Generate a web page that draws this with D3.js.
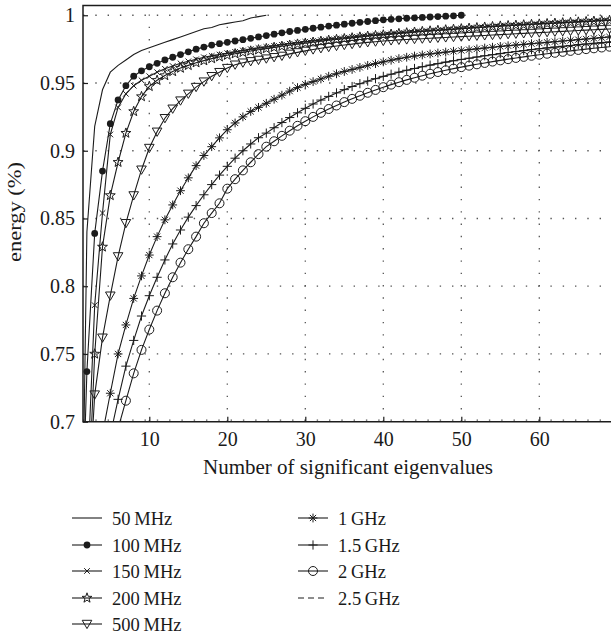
<!DOCTYPE html>
<html>
<head>
<meta charset="utf-8">
<script src="https://cdn.jsdelivr.net/npm/d3@7"></script>
<style>
  html, body { margin: 0; padding: 0; background: #fff; }
  svg { display: block; }
  text { font-family: "Liberation Serif", serif; fill: #1a1a1a; }
</style>
</head>
<body>
<svg id="chart" width="611" height="636"></svg>
<script>
// Cumulative energy captured by the first k eigenvalues, one array per bandwidth.
// Index i holds the value for k = i + 1.
const mhz50 = [0.45, 0.84, 0.918, 0.945, 0.958, 0.963, 0.967, 0.971, 0.974, 0.976,
  0.978, 0.980, 0.982, 0.984, 0.986, 0.988, 0.990, 0.991, 0.993, 0.994,
  0.995, 0.996, 0.998, 0.999, 1.0];

const mhz100 = [0.55, 0.737, 0.839, 0.885, 0.920, 0.9375, 0.948, 0.955, 0.959, 0.962,
  0.9645, 0.967, 0.969, 0.971, 0.973, 0.975, 0.9765, 0.978, 0.979, 0.980,
  0.981, 0.982, 0.983, 0.984, 0.985, 0.986, 0.987, 0.988, 0.9888, 0.9896,
  0.9904, 0.9912, 0.992, 0.9927, 0.9934, 0.9941, 0.9948, 0.9954, 0.996, 0.9966,
  0.997, 0.9974, 0.9978, 0.9981, 0.9984, 0.9987, 0.999, 0.9993, 0.9996, 1.0];

const mhz150 = [0.45, 0.65, 0.786, 0.854, 0.912, 0.932, 0.942, 0.948, 0.952, 0.955,
  0.958, 0.9605, 0.9625, 0.9645, 0.966, 0.9675, 0.969, 0.970, 0.971, 0.972,
  0.973, 0.974, 0.975, 0.9758, 0.9766, 0.9774, 0.9782, 0.979, 0.9797, 0.9804,
  0.981, 0.9816, 0.9822, 0.9828, 0.9834, 0.984, 0.9845, 0.985, 0.9855, 0.986,
  0.9865, 0.987, 0.9875, 0.9879, 0.9883, 0.9887, 0.9891, 0.9895, 0.9899, 0.9903,
  0.9907, 0.9911, 0.9915, 0.9919, 0.9923, 0.9926, 0.9929, 0.9932, 0.9935, 0.9938,
  0.9941, 0.9944, 0.9947, 0.995, 0.9953, 0.9956, 0.9959, 0.9962, 0.9965, 0.9968];

const mhz200 = [0.40, 0.62, 0.750, 0.829, 0.867, 0.8915, 0.913, 0.929, 0.940, 0.9475,
  0.952, 0.9555, 0.9585, 0.961, 0.963, 0.965, 0.9665, 0.968, 0.9693, 0.9705,
  0.9716, 0.9726, 0.9736, 0.9745, 0.9754, 0.9763, 0.9771, 0.9779, 0.9787, 0.9794,
  0.9801, 0.9808, 0.9815, 0.9821, 0.9827, 0.9833, 0.9839, 0.9845, 0.985, 0.9855,
  0.986, 0.9865, 0.987, 0.9875, 0.988, 0.9884, 0.9888, 0.9892, 0.9896, 0.99,
  0.9904, 0.9908, 0.9912, 0.9916, 0.992, 0.9923, 0.9926, 0.9929, 0.9932, 0.9935,
  0.9938, 0.9941, 0.9944, 0.9947, 0.995, 0.9953, 0.9956, 0.9959, 0.9962, 0.9965];

const mhz500 = [0.35, 0.62, 0.720, 0.762, 0.793, 0.822, 0.8465, 0.867, 0.886, 0.902,
  0.914, 0.924, 0.931, 0.937, 0.942, 0.947, 0.951, 0.955, 0.958, 0.961,
  0.9635, 0.965, 0.966, 0.967, 0.968, 0.969, 0.970, 0.9715, 0.9726, 0.9737,
  0.9747, 0.9756, 0.9765, 0.9773, 0.978, 0.9787, 0.9794, 0.980, 0.9805, 0.981,
  0.9814, 0.9818, 0.9821, 0.9824, 0.9827, 0.983, 0.9833, 0.9836, 0.9839, 0.9842,
  0.9845, 0.9848, 0.9851, 0.9854, 0.9857, 0.986, 0.9863, 0.9866, 0.9869, 0.9872,
  0.9875, 0.9878, 0.9881, 0.9884, 0.9887, 0.989, 0.9893, 0.9896, 0.9899, 0.9902];

const ghz1 = [0.50, 0.60, 0.655, 0.691, 0.721, 0.750, 0.7714, 0.791, 0.8076, 0.823,
  0.8366, 0.849, 0.860, 0.8705, 0.880, 0.889, 0.8965, 0.903, 0.9095, 0.9155,
  0.9205, 0.925, 0.929, 0.932, 0.935, 0.938, 0.941, 0.944, 0.9466, 0.949,
  0.951, 0.953, 0.955, 0.9568, 0.9585, 0.960, 0.9615, 0.963, 0.9643, 0.9656,
  0.9668, 0.968, 0.969, 0.9699, 0.9707, 0.9714, 0.9721, 0.9728, 0.9734, 0.974,
  0.9746, 0.9752, 0.9758, 0.9764, 0.977, 0.9775, 0.978, 0.9785, 0.979, 0.9795,
  0.980, 0.9805, 0.981, 0.9815, 0.982, 0.9825, 0.983, 0.9835, 0.984, 0.9845];

const ghz15 = [0.45, 0.55, 0.61, 0.66, 0.69, 0.7165, 0.741, 0.760, 0.778, 0.793,
  0.8066, 0.8194, 0.8312, 0.8415, 0.851, 0.8595, 0.8675, 0.875, 0.882, 0.8885,
  0.8945, 0.900, 0.905, 0.9096, 0.913, 0.917, 0.9208, 0.9245, 0.928, 0.9313,
  0.9345, 0.9374, 0.9401, 0.9427, 0.9451, 0.9474, 0.9495, 0.9514, 0.9532, 0.9549,
  0.9565, 0.958, 0.9594, 0.9607, 0.962, 0.9632, 0.9643, 0.9654, 0.9664, 0.9674,
  0.9683, 0.9692, 0.9701, 0.9709, 0.9717, 0.9725, 0.9732, 0.9739, 0.9746, 0.9753,
  0.9759, 0.9765, 0.9771, 0.9777, 0.9783, 0.9788, 0.9793, 0.9798, 0.9803, 0.9808];

const ghz2 = [0.40, 0.50, 0.58, 0.63, 0.672, 0.695, 0.7155, 0.7357, 0.753, 0.768,
  0.782, 0.7948, 0.8066, 0.8174, 0.8273, 0.8366, 0.8465, 0.854, 0.8612, 0.872,
  0.879, 0.8855, 0.8915, 0.8975, 0.903, 0.907, 0.911, 0.9148, 0.9184, 0.9218,
  0.925, 0.928, 0.9308, 0.9334, 0.9359, 0.9383, 0.9406, 0.9428, 0.9449, 0.9469,
  0.9488, 0.9506, 0.9523, 0.9539, 0.9554, 0.9568, 0.9581, 0.9594, 0.9606, 0.9617,
  0.9628, 0.9638, 0.9648, 0.9658, 0.9667, 0.9676, 0.9685, 0.9693, 0.9701, 0.9709,
  0.9716, 0.9723, 0.973, 0.9737, 0.9744, 0.975, 0.9756, 0.9762, 0.9768, 0.9774];

// 2.5 GHz: legend entry only
const ghz25 = [];

const seriesNames = ["50\u2009MHz", "100\u2009MHz", "150\u2009MHz", "200\u2009MHz", "500\u2009MHz",
                     "1\u2009GHz", "1.5\u2009GHz", "2\u2009GHz", "2.5\u2009GHz"];
const seriesValues = [mhz50, mhz100, mhz150, mhz200, mhz500, ghz1, ghz15, ghz2, ghz25];
const seriesMarkers = ["none", "dot", "times", "star", "triangle", "asterisk", "plus", "circle", "dash"];

const xTicks = [10, 20, 30, 40, 50, 60];
const xTickLabels = ["10", "20", "30", "40", "50", "60"];
const yTicks = [0.7, 0.75, 0.8, 0.85, 0.9, 0.95, 1];
const yTickLabels = ["0.7", "0.75", "0.8", "0.85", "0.9", "0.95", "1"];

const xTitle = "Number of significant eigenvalues";
const yTitle = "energy (%)";

// ---- layout ----
const svg = d3.select("#chart");
const ink = "#1c1c1c";
const pL = 83, pR = 617.3, pT = 5.5, pB = 421.7;

const x = d3.scaleLinear().domain([1.5, 70]).range([pL, pR]);
const y = d3.scaleLinear().domain([0.7, 1.0072]).range([pB, pT]);

svg.append("defs").append("clipPath").attr("id", "plotClip")
  .append("rect").attr("x", pL).attr("y", pT).attr("width", pR - pL).attr("height", pB - pT);

// dotted grid
const grid = svg.append("g").attr("stroke", "#555").attr("stroke-width", 1.3)
  .attr("stroke-dasharray", "1.4 10.9");
grid.selectAll("line.gx").data(xTicks).join("line")
  .attr("x1", d => x(d)).attr("x2", d => x(d))
  .attr("y1", pB).attr("y2", pT);
grid.selectAll("line.gy").data(yTicks).join("line")
  .attr("x1", pL).attr("x2", pR)
  .attr("y1", d => d === 0.7 ? y(d) - 1.5 : y(d)).attr("y2", d => d === 0.7 ? y(d) - 1.5 : y(d));

// marker shapes
function markerPath(kind) {
  switch (kind) {
    case "times": { const r = 2.8; return `M${-r},${-r}L${r},${r}M${-r},${r}L${r},${-r}`; }
    case "plus": { const r = 4.6; return `M${-r},0L${r},0M0,${-r}L0,${r}`; }
    case "asterisk": {
      const r = 4.4, s = 3.1;
      return `M${-r},0L${r},0M0,${-r}L0,${r}M${-s},${-s}L${s},${s}M${-s},${s}L${s},${-s}`;
    }
    case "star": {
      const ro = 5.2, ri = 2.1; let p = "";
      for (let i = 0; i < 10; i++) {
        const r = i % 2 ? ri : ro;
        const a = -Math.PI / 2 + i * Math.PI / 5;
        p += (i ? "L" : "M") + (r * Math.cos(a)).toFixed(2) + "," + (r * Math.sin(a)).toFixed(2);
      }
      return p + "Z";
    }
    case "triangle": return "M-4.8,-3.7L4.8,-3.7L0,4.6Z";
    default: return null;
  }
}

function drawMarker(g, kind, cx, cy) {
  if (kind === "dot") {
    g.append("circle").attr("cx", cx).attr("cy", cy).attr("r", 3.4).attr("fill", ink);
  } else if (kind === "circle") {
    g.append("circle").attr("cx", cx).attr("cy", cy).attr("r", 4.5)
      .attr("fill", "none").attr("stroke", ink).attr("stroke-width", 1);
  } else {
    const p = markerPath(kind);
    if (p) g.append("path").attr("d", p).attr("transform", `translate(${cx},${cy})`)
      .attr("fill", "none").attr("stroke", ink).attr("stroke-width", 1);
  }
}

// curves
const plot = svg.append("g").attr("clip-path", "url(#plotClip)");
const line = d3.line().x(d => x(d[0])).y(d => y(d[1]));

seriesValues.forEach((vals, si) => {
  const pts = vals.map((v, i) => [i + 1, v]);
  if (!pts.length) return;
  const g = plot.append("g");
  g.append("path").attr("d", line(pts)).attr("fill", "none")
    .attr("stroke", ink).attr("stroke-width", 1.1)
    .attr("stroke-dasharray", seriesMarkers[si] === "dash" ? "6 4" : null);
  const kind = seriesMarkers[si];
  if (kind !== "none" && kind !== "dash") {
    pts.forEach(p => drawMarker(g, kind, x(p[0]), y(p[1])));
  }
});

// axes
const xAxis = d3.axisBottom(x).tickValues(xTicks)
  .tickFormat((d, i) => xTickLabels[i]).tickSize(-5).tickPadding(10);
const yAxis = d3.axisLeft(y).tickValues(yTicks)
  .tickFormat((d, i) => yTickLabels[i]).tickSize(-5).tickPadding(8);

const gx = svg.append("g").attr("transform", `translate(0,${pB})`).call(xAxis);
const gy = svg.append("g").attr("transform", `translate(${pL},0)`).call(yAxis);
[gx, gy].forEach(g => {
  g.select(".domain").remove();
  g.selectAll(".tick line").attr("stroke", ink).attr("stroke-width", 1.2);
  g.selectAll(".tick text").attr("font-size", 20)
    .attr("font-family", "'Liberation Serif', serif").attr("fill", ink);
});

// frame: left, bottom and top edges
svg.append("path")
  .attr("d", `M${pR},${pT}L${pL},${pT}L${pL},${pB}L${pR},${pB}`)
  .attr("fill", "none").attr("stroke", ink).attr("stroke-width", 1.5);

// titles
svg.append("text").attr("x", 348).attr("y", 474)
  .attr("text-anchor", "middle").attr("font-size", 20)
  .attr("textLength", 290).attr("lengthAdjust", "spacingAndGlyphs").text(xTitle);
svg.append("text").attr("transform", `translate(21,212) rotate(-90)`)
  .attr("text-anchor", "middle").attr("font-size", 18)
  .attr("textLength", 100).attr("lengthAdjust", "spacingAndGlyphs").text(yTitle);

// legend
const legendRows = [518, 545, 571, 598, 624];
const legend = svg.append("g");
seriesNames.forEach((name, i) => {
  const col = i < 5 ? 0 : 1;
  const row = col === 0 ? i : i - 5;
  const x0 = col === 0 ? 72 : 298;
  const cy = legendRows[row];
  const g = legend.append("g");
  g.append("line").attr("x1", x0).attr("x2", x0 + 30).attr("y1", cy).attr("y2", cy)
    .attr("stroke", ink).attr("stroke-width", 1.1)
    .attr("stroke-dasharray", seriesMarkers[i] === "dash" ? "6 4" : null);
  const kind = seriesMarkers[i];
  if (kind !== "none" && kind !== "dash") drawMarker(g, kind, x0 + 15, cy);
  g.append("text").attr("x", x0 + 40).attr("y", cy + 6.5)
    .attr("font-size", 18.5).text(name);
});
</script>
</body>
</html>
